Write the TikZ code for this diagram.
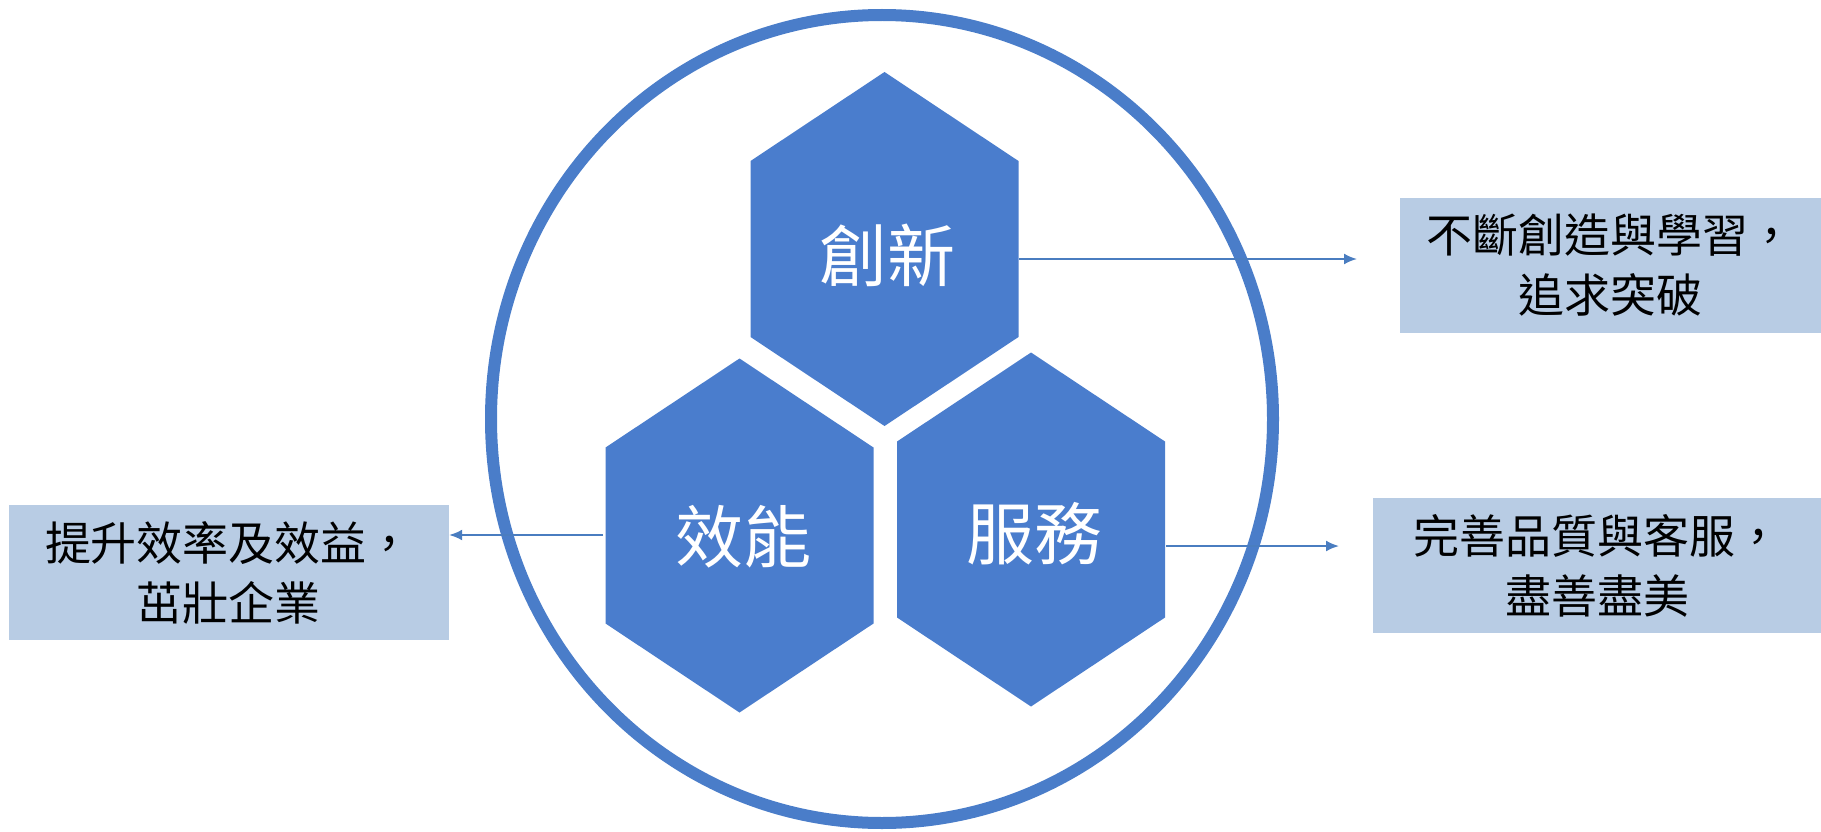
\documentclass[tikz,border=0pt]{standalone}
\usepackage{fontspec}
\newfontfamily\cjk{Noto Sans CJK TC}
\usetikzlibrary{arrows.meta}
\definecolor{hexblue}{HTML}{4A7DCD}
\definecolor{ringblue}{HTML}{4A7DC9}
\definecolor{boxblue}{HTML}{B8CCE4}
\definecolor{arrowblue}{HTML}{4A7DC0}
\tikzset{
  hexa/.pic={\fill[hexblue] (0,-177) -- (134,-88) -- (134,88) -- (0,177) -- (-134,88) -- (-134,-88) -- cycle;},
  hexlabel/.style={text=white, inner sep=0pt, font=\cjk\fontsize{68}{80}\selectfont},
  infobox/.style={fill=boxblue, inner sep=0pt, minimum height=135pt, align=center,
                  font=\cjk\fontsize{46}{60}\selectfont, text=black},
  arr/.style={draw=arrowblue, line width=2pt, -{Latex[length=13pt,width=11pt]}}
}
\begin{document}
\begin{tikzpicture}[x=1pt,y=-1pt]
\useasboundingbox (0,0) rectangle (1821,832);
% outer ring
\draw[ringblue, line width=12pt] (882,419) ellipse [x radius=391pt, y radius=404pt];
% hexagons
\pic at (884.5,249) {hexa};
\pic at (739.5,535.5) {hexa};
\pic at (1031,529.5) {hexa};
\node[hexlabel] (inno) at (887,255) {創新};
\node[hexlabel] (eff) at (743,537) {效能};
\node[hexlabel] (serv) at (1034,534) {服務};
% boxes
\node[infobox, minimum width=421pt] (boxA) at (1610.5,265.5) {不斷創造與學習，\\追求突破};
\node[infobox, minimum width=448pt] (boxB) at (1597,565.5) {完善品質與客服，\\盡善盡美};
\node[infobox, minimum width=440pt] (boxC) at (229,572.5) {提升效率及效益，\\茁壯企業};
% arrows
\coordinate (a1s) at (1019,259);
\coordinate (a1e) at (1357,259);
\coordinate (a2s) at (1166,546);
\coordinate (a2e) at (1339,546);
\coordinate (a3s) at (603,535);
\draw[arr] (a1s) -- (a1e);
\draw[arr] (a2s) -- (a2e);
\draw[arr] (a3s) -- (boxC.east |- a3s);
\end{tikzpicture}
\end{document}
